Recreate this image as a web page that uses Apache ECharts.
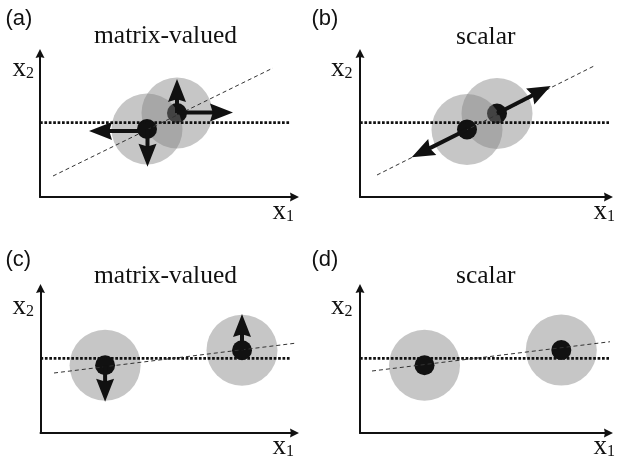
<!DOCTYPE html>
<html>
<head>
<meta charset="utf-8">
<script src="https://cdn.jsdelivr.net/npm/echarts@6/dist/echarts.min.js"></script>
<style>
html,body{margin:0;padding:0;background:#fff;}
#chart{width:618px;height:466px;}
</style>
</head>
<body>
<div id="chart"></div>
<script>
// ---- texts ----
const panelLabels = ['(a)', '(b)', '(c)', '(d)'];
const panelTitles = ['matrix-valued', 'scalar', 'matrix-valued', 'scalar'];
const xAxisNames = ['x{s|1}', 'x{s|1}', 'x{s|1}', 'x{s|1}'];
const yAxisNames = ['x{s|2}', 'x{s|2}', 'x{s|2}', 'x{s|2}'];

// ---- data (units from each panel's origin) ----
// (a) matrix-valued, overlapping
const aDotted = [[0, 7.43], [25.0, 7.43]];
const aDashed = [[1.3, 2.1], [23.3, 12.9]];
const aCentres = [[10.7, 6.8], [13.7, 8.4]];
const aArrows = [
  [[10.7, 6.6], [4.9, 6.6]],
  [[10.75, 6.8], [10.75, 3.03]],
  [[13.7, 8.4], [13.7, 11.8]],
  [[13.7, 8.45], [19.3, 8.45]]
];
// (b) scalar, overlapping
const bDotted = [[0, 7.43], [24.9, 7.43]];
const bDashed = [[1.7, 2.2], [23.4, 13.1]];
const bCentres = [[10.7, 6.75], [13.7, 8.35]];
const bArrows = [
  [[13.7, 8.35], [19.07, 11.1]],
  [[10.7, 6.75], [5.17, 3.97]]
];
// (c) matrix-valued, apart
const cDotted = [[0, 7.47], [24.95, 7.47]];
const cDashed = [[1.35, 6.0], [25.65, 9.0]];
const cCentres = [[6.46, 6.78], [20.15, 8.28]];
const cArrows = [
  [[6.46, 6.78], [6.46, 3.13]],
  [[20.15, 8.28], [20.15, 11.9]]
];
// (d) scalar, apart
const dDotted = [[0, 7.47], [24.9, 7.47]];
const dDashed = [[1.2, 6.2], [25.6, 9.2]];
const dCentres = [[6.45, 6.78], [20.13, 8.29]];
const dArrows = [];

const panelData = [
  {dotted: aDotted, dashed: aDashed, centres: aCentres, arrows: aArrows},
  {dotted: bDotted, dashed: bDashed, centres: bCentres, arrows: bArrows},
  {dotted: cDotted, dashed: cDashed, centres: cCentres, arrows: cArrows},
  {dotted: dDotted, dashed: dDashed, centres: dCentres, arrows: dArrows}
];

// ---- layout ----
const UNIT = 10; // px per unit
const AX_HEAD = [9, 11];
const panels = [
  {left: 40, bottom: 197, xTip: 300, yTip: 48},
  {left: 360, bottom: 197, xTip: 614, yTip: 48},
  {left: 40.5, bottom: 433, xTip: 300, yTip: 283},
  {left: 360, bottom: 433, xTip: 614, yTip: 283}
];
const labelPos = [
  {lab: [5.5, 8], title: [94, 23.5], y: [12.5, 55], x: [272.5, 198]},
  {lab: [311.5, 8], title: [456, 24], y: [331, 55], x: [593.5, 198]},
  {lab: [5.5, 249], title: [94, 263], y: [12.5, 293], x: [272.5, 433]},
  {lab: [311.5, 249], title: [456, 263], y: [331, 293], x: [593.5, 433]}
];

const INK = '#111';
const HEAD = 'path://M50,0 L100,100 L50,88 L0,100 Z';
const AXHEAD = 'path://M50,0 L100,100 L50,90 L0,100 Z';
const HEAD_SIZE = [18, 23];

const grids = [], xAxes = [], yAxes = [], series = [], titles = [];
const serif = 'Liberation Serif';
const sans = 'Liberation Sans';
const subRich = {s: {fontFamily: serif, fontSize: 16, lineHeight: 8, verticalAlign: 'bottom', color: INK}};

panels.forEach((p, i) => {
  const top = p.yTip + AX_HEAD[1] / 2;
  const width = p.xTip - AX_HEAD[1] / 2 - p.left;
  const height = p.bottom - top;
  grids.push({left: p.left, top: top, width: width, height: height, containLabel: false});
  const axisCommon = {
    type: 'value', min: 0, gridIndex: i,
    axisLine: {show: true, onZero: false, symbol: ['none', AXHEAD], symbolSize: AX_HEAD,
      lineStyle: {color: INK, width: 2}},
    axisTick: {show: false}, axisLabel: {show: false}, splitLine: {show: false}
  };
  xAxes.push(Object.assign({}, axisCommon, {max: width / UNIT}));
  yAxes.push(Object.assign({}, axisCommon, {max: height / UNIT}));

  const d = panelData[i];
  const base = {xAxisIndex: i, yAxisIndex: i, silent: true, animation: false, clip: false,
    emphasis: {disabled: true}};
  series.push(Object.assign({}, base, {
    type: 'line', data: d.dotted, showSymbol: false, symbol: 'none',
    lineStyle: {color: INK, width: 2.7, type: [2.7, 1.7], cap: 'butt'}
  }));
  series.push(Object.assign({}, base, {
    type: 'line', data: d.dashed, showSymbol: false, symbol: 'none',
    lineStyle: {color: '#333', width: 1, type: [4, 3]}
  }));
  // draw second centre first, then first centre on top
  [1, 0].forEach(k => {
    series.push(Object.assign({}, base, {
      type: 'scatter', data: [d.centres[k]], symbolSize: 71,
      itemStyle: {color: 'rgba(128,128,128,0.45)', opacity: 1}
    }));
    series.push(Object.assign({}, base, {
      type: 'scatter', data: [d.centres[k]], symbolSize: 20,
      itemStyle: {color: INK, opacity: 1}
    }));
  });
  const half = HEAD_SIZE[1] / 2 / UNIT;
  d.arrows.forEach(a => {
    const dx = a[1][0] - a[0][0], dy = a[1][1] - a[0][1];
    const len = Math.sqrt(dx * dx + dy * dy);
    const end = [a[1][0] - dx / len * half, a[1][1] - dy / len * half];
    const rot = Math.atan2(-dx, dy) * 180 / Math.PI;
    series.push(Object.assign({}, base, {
      type: 'line', showSymbol: true, showAllSymbol: true,
      lineStyle: {color: INK, width: 4, cap: 'butt'},
      itemStyle: {color: INK, opacity: 1, borderWidth: 0},
      data: [
        {value: a[0], symbol: 'none'},
        {value: end, symbol: HEAD, symbolSize: HEAD_SIZE, symbolRotate: rot, symbolKeepAspect: false}
      ]
    }));
  });

  const lp = labelPos[i];
  titles.push({text: panelLabels[i], left: lp.lab[0], top: lp.lab[1], padding: 0,
    textStyle: {fontFamily: sans, fontSize: 22, fontWeight: 'normal', color: INK}});
  titles.push({text: panelTitles[i], left: lp.title[0], top: lp.title[1], padding: 0,
    textStyle: {fontFamily: serif, fontSize: 25.5, fontWeight: 'normal', color: INK}});
  titles.push({text: yAxisNames[i], left: lp.y[0], top: lp.y[1], padding: 0,
    textStyle: {fontFamily: serif, fontSize: 27, fontWeight: 'normal', color: INK, rich: subRich}});
  titles.push({text: xAxisNames[i], left: lp.x[0], top: lp.x[1], padding: 0,
    textStyle: {fontFamily: serif, fontSize: 27, fontWeight: 'normal', color: INK, rich: subRich}});
});

const chart = echarts.init(document.getElementById('chart'), null, {renderer: 'canvas'});
chart.setOption({
  backgroundColor: '#fff',
  animation: false,
  title: titles,
  grid: grids,
  xAxis: xAxes,
  yAxis: yAxes,
  series: series
});
</script>
</body>
</html>
